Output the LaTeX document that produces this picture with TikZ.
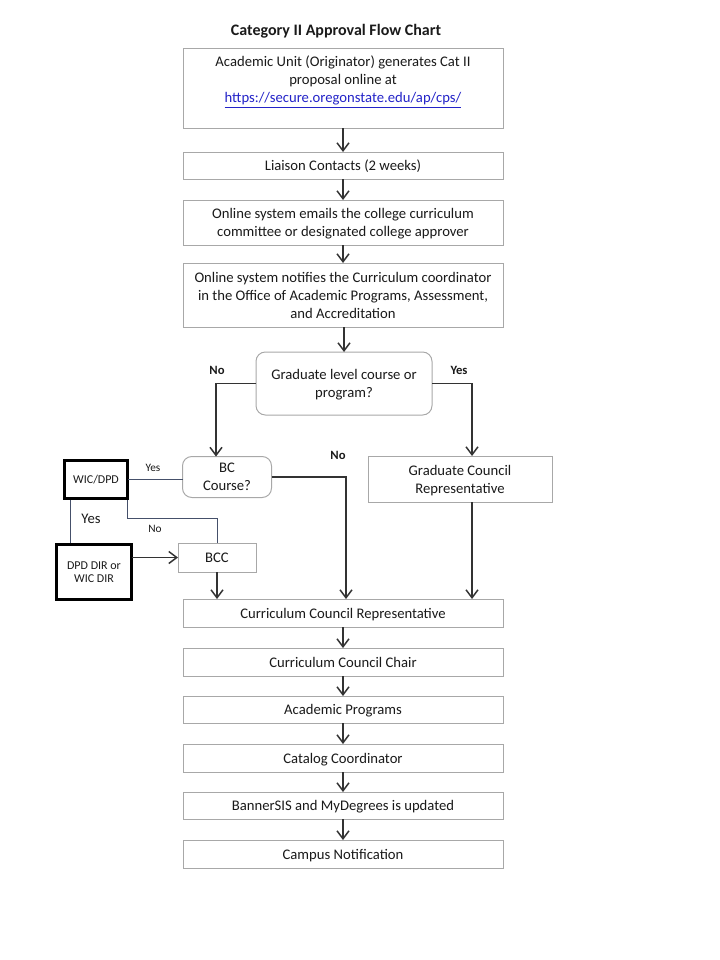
\documentclass[tikz,border=0pt]{standalone}
\usepackage{fontspec}
\setmainfont{Carlito}
\usetikzlibrary{arrows.meta,calc}
\definecolor{boxgray}{HTML}{A8A8A8}
\definecolor{ink}{HTML}{1A1A1A}
\definecolor{wire}{HTML}{333333}
\definecolor{slate}{HTML}{45506A}
\definecolor{urlblue}{HTML}{2323C8}
\tikzset{
  box/.style={draw=boxgray, line width=0.75pt, fill=white, inner sep=0pt, outer sep=0pt,
    align=center, text=ink, text depth=0pt, font=\fontsize{11}{13.5}\selectfont},
  rbox/.style={box, rounded corners=7pt},
  thickbox/.style={draw=black, line width=2.25pt, inner sep=0pt, outer sep=0pt,
    align=center, text=ink, font=\fontsize{9}{10}\selectfont},
  arr/.style={draw=wire, line width=1.1pt, -{Straight Barb[length=6pt,width=9pt,line width=1.1pt]}},
  thin/.style={draw=slate, line width=0.7pt},
  lbl/.style={inner sep=0pt, text=ink, font=\fontsize{9.5}{11}\selectfont\bfseries},
  slbl/.style={inner sep=0pt, text=ink, font=\fontsize{8.5}{10}\selectfont},
}
\begin{document}
\begin{tikzpicture}[x=0.75pt,y=-0.75pt]
\useasboundingbox (0,0) rectangle (720,960);
\node[inner sep=0pt, text=ink, font=\fontsize{12}{14}\selectfont\bfseries] (title) at (336,31) {Category II Approval Flow Chart};

\node[box, minimum width=240pt, minimum height=60pt] (b1) at (343,88) {};
\node[inner sep=0pt, align=center, text=ink, font=\fontsize{11}{13.5}\selectfont] (t1) at (343,82)
  {Academic Unit (Originator) generates Cat II\\proposal online at\\\textcolor{urlblue}{\underline{https://secure.oregonstate.edu/ap/cps/}}};
\node[box, minimum width=240pt, minimum height=20.25pt] (b2) at (343,165.5) {Liaison Contacts (2 weeks)};
\node[box, minimum width=240pt, minimum height=33.75pt] (b3) at (343,222.5) {Online system emails the college curriculum\\committee or designated college approver};
\node[box, minimum width=240pt, minimum height=48pt] (b4) at (343,295) {Online system notifies the Curriculum coordinator\\in the Office of Academic Programs, Assessment,\\and Accreditation};
\node[rbox, minimum width=132pt, minimum height=47.25pt] (dec) at (344,383.5) {Graduate level course or\\program?};
\node[rbox, minimum width=66.75pt, minimum height=30.75pt] (bc) at (227,477) {BC\\Course?};
\node[box, minimum width=138pt, minimum height=34.5pt] (gcr) at (460,479) {Graduate Council\\Representative};
\node[thickbox, minimum width=47.25pt, minimum height=28.5pt] (wic) at (96,479.5) {WIC/DPD};
\node[thickbox, minimum width=56.25pt, minimum height=41.25pt] (dpd) at (94,572) {DPD DIR or\\WIC DIR};
\node[box, minimum width=58.5pt, minimum height=21.75pt] (bcc) at (217,557.5) {BCC};
\node[box, minimum width=240pt, minimum height=21pt] (ccr) at (343,613) {Curriculum Council Representative};
\node[box, minimum width=240pt, minimum height=21pt] (ccc) at (343,662) {Curriculum Council Chair};
\node[box, minimum width=240pt, minimum height=20.25pt] (ap) at (343,709.5) {Academic Programs};
\node[box, minimum width=240pt, minimum height=21pt] (cat) at (343,758) {Catalog Coordinator};
\node[box, minimum width=240pt, minimum height=20.25pt] (ban) at (343,805.5) {BannerSIS and MyDegrees is updated};
\node[box, minimum width=240pt, minimum height=21pt] (cam) at (343,854) {Campus Notification};

% labels
\node[lbl] (noA) at (217,370) {No};
\node[lbl] (yesA) at (459,370) {Yes};
\node[lbl] (noB) at (338,455) {No};
\node[slbl] (yesB) at (153,468) {Yes};
\node[inner sep=0pt, text=ink, font=\fontsize{11}{13}\selectfont] (yesC) at (91,519) {Yes};
\node[slbl] (noC) at (155,529) {No};

% main column
\draw[arr] (b1.south) -- (b2.north);
\draw[arr] (b2.south) -- (b3.north);
\draw[arr] (b3.south) -- (b4.north);
\draw[arr] (b4.south -| dec.north) -- (dec.north);
\draw[arr] (dec.west) -| ($(bc.north)+(-11,0)$);
\draw[arr] (dec.east) -| ($(gcr.north)+(12,0)$);
\draw[arr] (bc.east) -| ($(ccr.north)+(3,0)$);
\draw[arr] ($(gcr.south)+(12,0)$) -- ($(ccr.north)+(129,0)$);
\draw[arr] (bcc.south) -- (bcc.south |- ccr.north);
\draw[arr] (dpd.east |- bcc.west) -- (bcc.west);
\draw[arr] (ccr.south) -- (ccc.north);
\draw[arr] (ccc.south) -- (ap.north);
\draw[arr] (ap.south) -- (cat.north);
\draw[arr] (cat.south) -- (ban.north);
\draw[arr] (ban.south) -- (cam.north);

% WIC links
\draw[thin] (bc.west |- wic.east) -- (wic.east);
\draw[thin] ($(wic.south)+(-26,1.5)$) -- ($(dpd.north)+(-24,-1.5)$);
\draw[thin] ($(wic.south east)+(0,1.5)$) -- ++(0,18) -| (bcc.north);
\end{tikzpicture}
\end{document}
